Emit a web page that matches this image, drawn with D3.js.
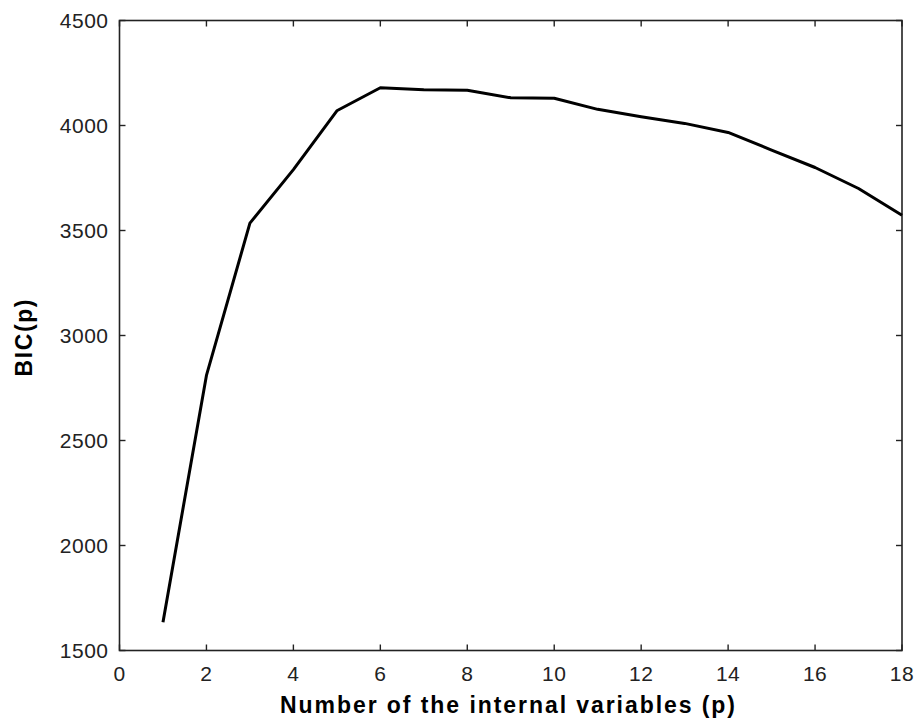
<!DOCTYPE html>
<html><head><meta charset="utf-8">
<script src="https://cdn.jsdelivr.net/npm/d3@7"></script>
<style>
html,body{margin:0;padding:0;background:#fff;}
svg{display:block;}
</style></head>
<body>
<script>
const pValues = [1,2,3,4,5,6,7,8,9,10,11,12,13,14,15,16,17,18];
const bicValues = [1635,2810,3535,3790,4070,4180,4170,4168,4132,4130,4077,4042,4010,3967,3883,3800,3700,3573];
const xTicks = [0,2,4,6,8,10,12,14,16,18];
const yTicks = [1500,2000,2500,3000,3500,4000,4500];
const xTitle = "Number of the internal variables (p)";
const yTitle = "BIC(p)";

const W = 920, H = 723;
const L = 119.5, R = 902, T = 20.5, B = 650.5;
const svg = d3.select("body").append("svg").attr("width", W).attr("height", H);
const x = d3.scaleLinear().domain([0,18]).range([L,R]);
const y = d3.scaleLinear().domain([1500,4500]).range([B,T]);
const font = "'Liberation Sans', Arial, sans-serif";
const axisColor = "#222";

// frame
svg.append("rect").attr("x",L).attr("y",T).attr("width",R-L).attr("height",B-T)
  .attr("fill","none").attr("stroke",axisColor).attr("stroke-width",1.6);

const tl = 6;
const g = svg.append("g").attr("stroke",axisColor).attr("stroke-width",1.4);
xTicks.forEach(v=>{
  g.append("line").attr("x1",x(v)).attr("x2",x(v)).attr("y1",B).attr("y2",B-tl);
  g.append("line").attr("x1",x(v)).attr("x2",x(v)).attr("y1",T).attr("y2",T+tl);
});
yTicks.forEach(v=>{
  g.append("line").attr("x1",L).attr("x2",L+tl).attr("y1",y(v)).attr("y2",y(v));
  g.append("line").attr("x1",R).attr("x2",R-tl).attr("y1",y(v)).attr("y2",y(v));
});

svg.append("g").selectAll("text").data(xTicks).join("text")
  .attr("x",d=>x(d)).attr("y",B+30).attr("text-anchor","middle")
  .attr("font-family",font).attr("font-size",21).attr("letter-spacing",0.5).attr("fill","#222").text(d=>d);
svg.append("g").selectAll("text").data(yTicks).join("text")
  .attr("x",L-11).attr("y",d=>y(d)).attr("dy","0.36em").attr("text-anchor","end")
  .attr("font-family",font).attr("font-size",21).attr("letter-spacing",0.5).attr("fill","#222").text(d=>d);

svg.append("text").attr("x",(280+735)/2).attr("y",713).attr("text-anchor","middle")
  .attr("textLength",455).attr("lengthAdjust","spacing")
  .attr("font-family",font).attr("font-weight","bold").attr("font-size",23).attr("fill","#000").text(xTitle);
svg.append("text").attr("transform",`translate(32,338) rotate(-90)`).attr("text-anchor","middle")
  .attr("textLength",77).attr("lengthAdjust","spacing")
  .attr("font-family",font).attr("font-weight","bold").attr("font-size",23).attr("fill","#000").text(yTitle);

const line = d3.line().x((d,i)=>x(pValues[i])).y(d=>y(d));
svg.append("path").datum(bicValues).attr("d",line).attr("fill","none")
  .attr("stroke","#000").attr("stroke-width",3).attr("stroke-linejoin","round");
</script>
</body></html>
